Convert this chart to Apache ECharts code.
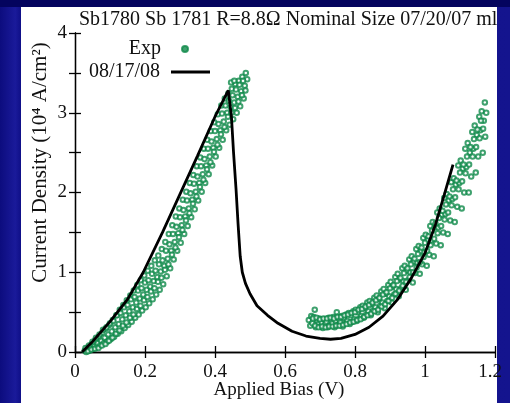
<!DOCTYPE html>
<html>
<head>
<meta charset="utf-8">
<script src="https://cdn.jsdelivr.net/npm/echarts@6/dist/echarts.min.js"></script>
<style>
html,body{margin:0;padding:0;width:510px;height:403px;overflow:hidden;}
body{background:linear-gradient(90deg,#0c0c7e 0%,#1a1a9a 3%,#0e0e86 4.2%,#14148e 100%);}
#top{position:absolute;left:0;top:0;width:510px;height:7px;background:#04045e;}
#panel{position:absolute;left:21px;top:7px;width:476px;height:396px;background:#ffffff;}
#chart{position:absolute;left:0;top:0;width:510px;height:403px;}
</style>
</head>
<body>
<div id="top"></div>
<div id="panel"></div>
<div id="chart"></div>
<script>
// ---- data ----
const titleText = 'Sb1780 Sb 1781 R=8.8\u03A9 Nominal Size 07/20/07 ml';
const xAxisName = 'Applied Bias (V)';
const yAxisName = 'Current Density (10\u2074 A/cm\u00B2)';
const xTickLabels = ['0', '0.2', '0.4', '0.6', '0.8', '1', '1.2'];
const yTickLabels = ['0', '1', '2', '3', '4'];
const seriesNames = ['Exp', '08/17/08'];

// model curve (black line)
const modelCurve = [
  [0.020,0.00],[0.050,0.13],[0.100,0.38],[0.150,0.66],[0.195,1.00],[0.250,1.50],
  [0.300,1.98],[0.350,2.46],[0.400,2.95],[0.438,3.28],[0.447,2.95],[0.453,2.50],
  [0.460,2.05],[0.466,1.60],[0.472,1.20],[0.478,1.00],[0.487,0.86],[0.500,0.73],
  [0.520,0.58],[0.550,0.46],[0.580,0.36],[0.620,0.26],[0.660,0.20],[0.700,0.17],
  [0.730,0.16],[0.760,0.17],[0.800,0.22],[0.840,0.31],[0.880,0.45],[0.920,0.65],
  [0.960,0.92],[1.000,1.24],[1.030,1.60],[1.055,1.97],[1.080,2.35]
];

// experimental points, rising branch
const expRise = [
  [0.028,0.02],[0.032,0.00],[0.035,0.04],[0.038,0.06],[0.042,0.02],[0.045,0.05],
  [0.048,0.10],[0.052,0.04],[0.055,0.08],[0.058,0.15],[0.062,0.07],[0.065,0.11],
  [0.068,0.19],[0.072,0.08],[0.075,0.14],[0.078,0.24],[0.082,0.11],[0.085,0.18],
  [0.088,0.29],[0.092,0.13],[0.095,0.22],[0.098,0.34],[0.102,0.16],[0.105,0.26],
  [0.108,0.40],[0.112,0.19],[0.115,0.31],[0.118,0.46],[0.122,0.23],[0.125,0.35],
  [0.128,0.53],[0.132,0.26],[0.135,0.41],[0.138,0.59],[0.142,0.30],[0.145,0.46],
  [0.148,0.65],[0.152,0.34],[0.155,0.51],[0.158,0.71],[0.162,0.38],[0.165,0.56],
  [0.168,0.77],[0.172,0.43],[0.175,0.62],[0.178,0.84],[0.182,0.47],[0.185,0.67],
  [0.188,0.90],[0.192,0.52],[0.195,0.72],[0.198,0.96],[0.202,0.56],[0.205,0.78],
  [0.208,1.02],[0.212,0.61],[0.215,0.82],[0.218,1.08],[0.222,0.66],[0.225,0.89],
  [0.228,1.15],[0.232,0.72],[0.235,0.94],[0.238,1.21],[0.242,0.78],[0.245,1.01],
  [0.248,1.29],[0.252,0.85],[0.255,1.08],[0.258,1.38],[0.262,0.95],[0.265,1.17],
  [0.268,1.48],[0.272,1.05],[0.275,1.27],[0.278,1.59],[0.282,1.16],[0.285,1.38],
  [0.288,1.70],[0.292,1.27],[0.295,1.49],[0.298,1.80],[0.302,1.37],[0.305,1.59],
  [0.308,1.91],[0.312,1.48],[0.315,1.70],[0.318,2.01],[0.322,1.58],[0.325,1.80],
  [0.328,2.12],[0.332,1.69],[0.335,1.91],[0.338,2.22],[0.342,1.79],[0.345,2.01],
  [0.348,2.33],[0.352,1.90],[0.355,2.12],[0.358,2.44],[0.362,2.01],[0.365,2.23],
  [0.368,2.55],[0.372,2.12],[0.375,2.34],[0.378,2.66],[0.382,2.23],[0.385,2.45],
  [0.388,2.77],[0.392,2.34],[0.395,2.56],[0.398,2.88],[0.402,2.45],[0.405,2.67],
  [0.408,2.98],[0.412,2.56],[0.415,2.78],[0.418,3.09],[0.422,2.66],[0.425,2.89],
  [0.428,3.18],[0.432,2.78],[0.435,3.00],[0.438,3.24],[0.442,2.85],[0.445,3.07],
  [0.448,3.30],[0.452,2.92],[0.455,3.13],[0.458,3.36],[0.462,3.00],[0.465,3.20],
  [0.468,3.40],[0.472,3.08],[0.475,3.27],[0.478,3.45],[0.482,3.18],[0.485,3.34],
  [0.488,3.50],[0.492,3.42],[0.446,3.38],[0.455,3.40],
  [0.030,0.05],[0.037,0.01],[0.040,0.08],[0.047,0.03],[0.050,0.13],[0.057,0.04],
  [0.060,0.18],[0.067,0.05],[0.070,0.22],[0.077,0.08],[0.080,0.28],[0.087,0.10],
  [0.090,0.31],[0.097,0.14],[0.100,0.36],[0.107,0.18],[0.110,0.39],[0.117,0.23],
  [0.120,0.46],[0.127,0.27],[0.130,0.49],[0.137,0.33],[0.140,0.56],[0.147,0.37],
  [0.150,0.59],[0.157,0.43],[0.160,0.66],[0.167,0.47],[0.170,0.69],[0.177,0.54],
  [0.180,0.77],[0.187,0.58],[0.190,0.80],[0.197,0.65],[0.200,0.87],[0.207,0.69],
  [0.210,0.90],[0.217,0.76],[0.220,0.98],[0.227,0.80],[0.230,1.02],[0.237,0.88],
  [0.240,1.10],[0.247,0.93],[0.250,1.15],[0.257,1.03],[0.260,1.27],[0.267,1.10],
  [0.270,1.35],[0.277,1.22],[0.280,1.48],[0.287,1.31],[0.290,1.57],[0.297,1.44],
  [0.300,1.69],[0.307,1.53],[0.310,1.78],[0.317,1.65],[0.320,1.90],[0.327,1.74],
  [0.330,1.99],[0.337,1.86],[0.340,2.11],[0.347,1.95],[0.350,2.20],[0.357,2.07],
  [0.360,2.33],[0.367,2.16],[0.370,2.42],[0.377,2.29],[0.380,2.55],[0.387,2.38],
  [0.390,2.64],[0.397,2.51],[0.400,2.77],[0.407,2.60],[0.410,2.86],[0.417,2.73],
  [0.420,2.99],[0.427,2.82],[0.430,3.09],[0.437,2.95],[0.440,3.15],[0.447,3.00],
  [0.450,3.22],[0.457,3.06],[0.460,3.29],[0.467,3.14],[0.470,3.35],[0.477,3.22],
  [0.480,3.40],[0.487,3.28]
];

// experimental points, second branch
const expValley = [
  [0.668,0.40],[0.672,0.33],[0.675,0.45],[0.678,0.36],[0.682,0.44],[0.685,0.53],
  [0.688,0.31],[0.692,0.39],[0.695,0.35],[0.698,0.42],[0.702,0.32],[0.705,0.37],
  [0.708,0.30],[0.712,0.41],[0.715,0.35],[0.718,0.38],[0.722,0.31],[0.725,0.43],
  [0.728,0.33],[0.732,0.40],[0.735,0.36],[0.738,0.44],[0.742,0.31],[0.745,0.39],
  [0.748,0.50],[0.752,0.34],[0.755,0.41],[0.758,0.37],[0.762,0.45],[0.765,0.32],
  [0.768,0.43],[0.772,0.36],[0.775,0.47],[0.778,0.39],[0.782,0.49],[0.785,0.35],
  [0.788,0.46],[0.792,0.38],[0.795,0.51],[0.798,0.41],[0.802,0.53],[0.805,0.39],
  [0.808,0.50],[0.812,0.42],[0.815,0.56],[0.818,0.45],[0.822,0.58],[0.825,0.43],
  [0.828,0.55],[0.832,0.47],[0.835,0.62],[0.838,0.51],[0.842,0.64],[0.845,0.46],
  [0.848,0.60],[0.852,0.52],[0.855,0.68],[0.858,0.56],[0.862,0.71],[0.865,0.50],
  [0.868,0.66],[0.872,0.58],[0.875,0.76],[0.878,0.62],[0.882,0.79],[0.885,0.55],
  [0.888,0.73],[0.892,0.64],[0.895,0.84],[0.898,0.70],[0.902,0.88],[0.905,0.62],
  [0.908,0.82],[0.912,0.72],[0.915,0.94],[0.918,0.79],[0.922,0.98],[0.925,0.70],
  [0.928,0.91],[0.932,0.80],[0.935,1.05],[0.938,0.89],[0.942,1.08],[0.945,0.78],
  [0.948,1.02],[0.952,0.90],[0.955,1.16],[0.958,1.00],[0.962,1.20],[0.965,0.87],
  [0.968,1.13],[0.972,0.99],[0.975,1.29],[0.978,1.12],[0.982,1.33],[0.985,0.98],
  [0.988,1.26],[0.992,1.10],[0.995,1.43],[0.998,1.25],[1.002,1.47],[1.005,1.08],
  [1.008,1.40],[1.012,1.22],[1.015,1.58],[1.018,1.40],[1.022,1.63],[1.025,1.20],
  [1.028,1.56],[1.032,1.36],[1.035,1.75],[1.038,1.56],[1.042,1.80],[1.045,1.34],
  [1.048,1.72],[1.052,1.50],[1.055,1.93],[1.058,1.73],[1.062,1.98],[1.065,1.48],
  [1.068,1.90],[1.072,1.65],[1.075,2.13],[1.078,1.92],[1.082,2.18],[1.085,1.63],
  [1.088,2.10],[1.092,1.82],[1.095,2.34],[1.098,2.12],[1.102,2.40],[1.105,1.80],
  [1.108,2.30],[1.112,2.00],[1.115,2.55],[1.118,2.32],[1.122,2.62],[1.125,2.00],
  [1.128,2.50],[1.132,2.20],[1.135,2.76],[1.138,2.55],[1.142,2.84],[1.145,2.25],
  [1.148,2.72],[1.152,2.45],[1.155,2.95],[1.158,2.78],[1.162,3.02],[1.165,2.50],
  [1.168,2.90],[1.171,3.13],[1.172,2.70],[1.175,3.00],
  [0.680,0.42],[0.686,0.33],[0.690,0.43],[0.696,0.31],[0.700,0.41],[0.706,0.32],
  [0.710,0.42],[0.716,0.31],[0.720,0.42],[0.726,0.32],[0.730,0.43],[0.736,0.32],
  [0.740,0.42],[0.746,0.33],[0.750,0.44],[0.756,0.33],[0.760,0.44],[0.766,0.34],
  [0.770,0.46],[0.776,0.35],[0.780,0.47],[0.786,0.37],[0.790,0.49],[0.796,0.38],
  [0.800,0.50],[0.806,0.40],[0.810,0.53],[0.816,0.41],[0.820,0.54],[0.826,0.44],
  [0.830,0.57],[0.836,0.46],[0.840,0.59],[0.846,0.48],[0.850,0.62],[0.856,0.51],
  [0.860,0.65],[0.866,0.53],[0.870,0.68],[0.876,0.57],[0.880,0.72],[0.886,0.60],
  [0.890,0.75],[0.896,0.64],[0.900,0.80],[0.906,0.68],[0.910,0.84],[0.916,0.73],
  [0.920,0.89],[0.926,0.77],[0.930,0.93],[0.936,0.83],[0.940,0.99],[0.946,0.88],
  [0.950,1.05],[0.956,0.94],[0.960,1.10],[0.966,1.00],[0.970,1.17],[0.976,1.06],
  [0.980,1.23],[0.986,1.13],[0.990,1.31],[0.996,1.19],[1.000,1.37],[1.006,1.27],
  [1.010,1.45],[1.016,1.34],[1.020,1.52],[1.026,1.42],[1.030,1.61],[1.036,1.49],
  [1.040,1.68],[1.046,1.58],[1.050,1.77],[1.056,1.66],[1.060,1.85],[1.066,1.75],
  [1.070,1.95],[1.076,1.84],[1.080,2.04],[1.086,1.94],[1.090,2.15],[1.096,2.04],
  [1.100,2.25],[1.106,2.14],[1.110,2.35],[1.116,2.24],[1.120,2.45],[1.126,2.35],
  [1.130,2.57],[1.136,2.45],[1.140,2.67],[1.146,2.57],[1.150,2.79],[1.156,2.68],
  [1.160,2.90],[1.166,2.80]
];

// ---- chart ----
const FONT = 'Liberation Serif';
const GREEN = '#0f8a4a';
const chart = echarts.init(document.getElementById('chart'), null, {renderer: 'canvas'});

function xLabel(v) {
  const i = Math.round(v / 0.2);
  if (Math.abs(v - i * 0.2) > 1e-6 || xTickLabels[i] === undefined) return '';
  return i === xTickLabels.length - 1 ? '{last|' + xTickLabels[i] + '}' : xTickLabels[i];
}
function yLabel(v) {
  const i = Math.round(v);
  return (Math.abs(v - i) < 1e-6 && yTickLabels[i] !== undefined) ? yTickLabels[i] : '';
}

const axisLineStyle = {color: '#000', width: 1.3};
const tickStyle = {show: true, inside: true, length: 6, lineStyle: {color: '#000', width: 1.3}};
const txt = {fontFamily: FONT, fontSize: 19, color: '#111'};
const legTxt = {fontFamily: FONT, fontSize: 20, color: '#111'};

chart.setOption({
  animation: false,
  backgroundColor: 'transparent',
  title: {
    text: titleText,
    left: 74, top: 5,
    textStyle: {fontFamily: FONT, fontSize: 20, fontWeight: 'normal', color: '#111'}
  },
  legend: [
    {
      data: [{name: seriesNames[0], icon: 'circle'}],
      orient: 'vertical', align: 'right', padding: 0,
      right: 321, top: 39,
      itemWidth: 10, itemHeight: 6,
      textStyle: Object.assign({padding: [0, 14, 0, 0]}, legTxt)
    },
    {
      data: [{name: seriesNames[1], icon: 'rect'}],
      orient: 'vertical', align: 'right', padding: 0,
      right: 300, top: 62,
      itemWidth: 39, itemHeight: 3, symbolKeepAspect: false,
      itemStyle: {color: '#000'},
      textStyle: Object.assign({padding: [0, 6, 0, 0]}, legTxt)
    }
  ],
  grid: {left: 75, right: 15, top: 33, bottom: 51, containLabel: false, outerBoundsMode: 'none'},
  xAxis: [
    {
      type: 'value', min: 0, max: 1.2, interval: 0.2, position: 'bottom',
      axisLine: {show: true, lineStyle: axisLineStyle},
      axisTick: tickStyle,
      splitLine: {show: false},
      axisLabel: Object.assign({formatter: xLabel, margin: 11,
        rich: {last: {fontFamily: FONT, fontSize: 19, color: '#111', padding: [0, 10, 0, 0]}}}, txt),
      name: xAxisName, nameLocation: 'middle', nameGap: 29, nameMoveOverlap: false,
      nameTextStyle: Object.assign({padding: [0, 12, 0, 0]}, txt)
    },
    {
      type: 'value', min: 0, max: 1.2, interval: 0.2, position: 'top',
      axisLine: {show: true, lineStyle: axisLineStyle},
      axisTick: tickStyle,
      splitLine: {show: false},
      axisLabel: {show: false}
    }
  ],
  yAxis: [
    {
      type: 'value', min: 0, max: 4, interval: 0.5, position: 'left',
      axisLine: {show: true, lineStyle: axisLineStyle},
      axisTick: tickStyle,
      splitLine: {show: false},
      axisLabel: Object.assign({formatter: yLabel, margin: 8}, txt),
      name: yAxisName, nameLocation: 'middle', nameGap: 24, nameMoveOverlap: false,
      nameTextStyle: {fontFamily: FONT, fontSize: 21, color: '#111', padding: [0, 0, 0, 60]}
    },
    {
      type: 'value', min: 0, max: 4, interval: 0.5, position: 'right',
      axisLine: {show: true, lineStyle: axisLineStyle},
      axisTick: tickStyle,
      splitLine: {show: false},
      axisLabel: {show: false}
    }
  ],
  series: [
    {
      name: seriesNames[0], type: 'scatter', xAxisIndex: 0, yAxisIndex: 0,
      data: expRise.concat(expValley),
      symbol: 'emptyCircle', symbolSize: 4.5,
      itemStyle: {color: GREEN, borderColor: GREEN, borderWidth: 1.4},
      z: 2
    },
    {
      name: seriesNames[1], type: 'line', xAxisIndex: 0, yAxisIndex: 0,
      data: modelCurve, symbol: 'none', smooth: false,
      lineStyle: {color: '#000', width: 2.8},
      itemStyle: {color: '#000'},
      z: 3
    }
  ]
});
</script>
</body>
</html>
